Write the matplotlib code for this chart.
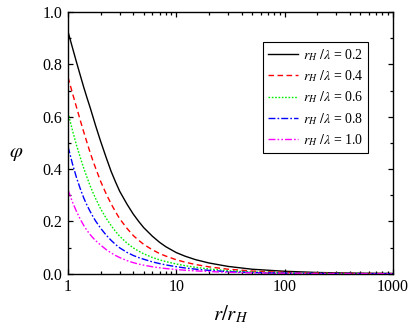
import matplotlib
matplotlib.use("Agg")
import matplotlib.pyplot as plt
from matplotlib.ticker import FixedLocator, FixedFormatter, MultipleLocator, LogLocator, NullFormatter

plt.rcParams['font.family'] = ['Liberation Serif', 'DejaVu Serif']
plt.rcParams['mathtext.fontset'] = 'stix'

# r / r_H sample positions
x = [1, 1.1, 1.2, 1.3, 1.4, 1.5, 1.6, 1.7, 1.8, 2, 2.25, 2.5, 2.75, 3, 3.5, 4, 4.5, 5,
     6, 7, 8, 10, 12, 15, 20, 30, 50, 100, 200, 500, 1000]

phi_02 = [0.925, 0.863, 0.807, 0.757, 0.711, 0.671, 0.635, 0.599, 0.565, 0.506, 0.444,
          0.391, 0.350, 0.315, 0.266, 0.228, 0.1994, 0.176, 0.1435, 0.120, 0.1031, 0.0806,
          0.0672, 0.0538, 0.041, 0.0279, 0.0171, 0.0093, 0.0046, 0.0019, 0.0009]
phi_04 = [0.751, 0.689, 0.635, 0.585, 0.540, 0.500, 0.463, 0.431, 0.403, 0.353, 0.305,
          0.267, 0.236, 0.210, 0.1734, 0.146, 0.1273, 0.112, 0.0915, 0.0771, 0.0673, 0.0532,
          0.0442, 0.0352, 0.0262, 0.0172, 0.0102, 0.0050, 0.0024, 0.0009, 0.0004]
phi_06 = [0.616, 0.547, 0.490, 0.443, 0.402, 0.367, 0.336, 0.310, 0.287, 0.248, 0.212,
          0.184, 0.1612, 0.143, 0.1171, 0.0988, 0.0859, 0.0760, 0.0622, 0.0531, 0.0462, 0.0371,
          0.0308, 0.0245, 0.0180, 0.0115, 0.0066, 0.0031, 0.0014, 0.0005, 0.0002]
phi_08 = [0.486, 0.419, 0.366, 0.3236, 0.2885, 0.2608, 0.238, 0.2181, 0.201, 0.174, 0.1475,
          0.1275, 0.1115, 0.0988, 0.0815, 0.0698, 0.0614, 0.0553, 0.0452, 0.0387, 0.0336, 0.0267,
          0.0220, 0.0174, 0.0126, 0.0079, 0.0044, 0.0020, 0.0009, 0.0003, 0.0001]
phi_10 = [0.32, 0.2734, 0.237, 0.2075, 0.1837, 0.1649, 0.1495, 0.1369, 0.1264, 0.1093, 0.0922,
          0.0795, 0.0695, 0.0616, 0.0501, 0.0423, 0.0367, 0.0326, 0.0265, 0.0227, 0.0197, 0.0160,
          0.0133, 0.0108, 0.0083, 0.0054, 0.0030, 0.0014, 0.0006, 0.0002, 0.0001]

labels = [r'$r_H\ /\lambda$ = 0.2', r'$r_H\ /\lambda$ = 0.4', r'$r_H\ /\lambda$ = 0.6',
          r'$r_H\ /\lambda$ = 0.8', r'$r_H\ /\lambda$ = 1.0']
series = [phi_02, phi_04, phi_06, phi_08, phi_10]
colors = ['black', '#ff0000', '#00ee00', '#0000ff', '#ff00ff']
styles = ['-', (0, (4, 2.5)), (0, (1.2, 1.2)), (0, (5, 1.5, 1.2, 1.5)), (0, (5, 1.5, 1.2, 1.5, 1.2, 1.5))]

xticks = [1, 10, 100, 1000]
xticklabels = ['1', '10', '100', '1000']
yticks = [0.0, 0.2, 0.4, 0.6, 0.8, 1.0]
yticklabels = ['0.0', '0.2', '0.4', '0.6', '0.8', '1.0']

fig = plt.figure(figsize=(4.11, 3.30), dpi=100)
ax = fig.add_axes([0.1655, 0.1706, 0.956 - 0.1655, 0.9636 - 0.1706])

for s, lab, c, ls in zip(series, labels, colors, styles):
    ax.plot(x, s, color=c, linestyle=ls, linewidth=1.0, label=lab)

ax.set_xscale('log')
ax.set_xlim(1, 1000)
ax.set_ylim(0, 1.0)
ax.xaxis.set_major_locator(FixedLocator(xticks))
ax.xaxis.set_major_formatter(FixedFormatter(xticklabels))
ax.xaxis.set_minor_locator(LogLocator(base=10, subs=range(2, 10)))
ax.xaxis.set_minor_formatter(NullFormatter())
ax.yaxis.set_major_locator(FixedLocator(yticks))
ax.yaxis.set_major_formatter(FixedFormatter(yticklabels))
ax.yaxis.set_minor_locator(MultipleLocator(0.1))

ax.tick_params(which='both', direction='in', top=True, right=True, labelsize=11.5, width=0.9)
ax.tick_params(which='major', length=3.5, pad=4)
ax.tick_params(which='minor', length=2)
for sp in ax.spines.values():
    sp.set_linewidth(1.0)

ax.set_xlabel(r'$r/r_H$', fontsize=15)
ax.xaxis.set_label_coords(0.5, -0.115)
ax.set_ylabel(r'$\varphi$', fontsize=15, rotation=0, va='center', ha='center')
ax.yaxis.set_label_coords(-0.16, 0.46)

leg = ax.legend(loc='upper right', bbox_to_anchor=(0.923, 0.886), fontsize=10,
                frameon=True, fancybox=False, edgecolor='black', framealpha=1,
                handlelength=2.2, handletextpad=0.3, borderpad=0.35, labelspacing=0.4,
                borderaxespad=0)
leg.get_frame().set_linewidth(0.8)

fig.savefig('out.png', dpi=100)
